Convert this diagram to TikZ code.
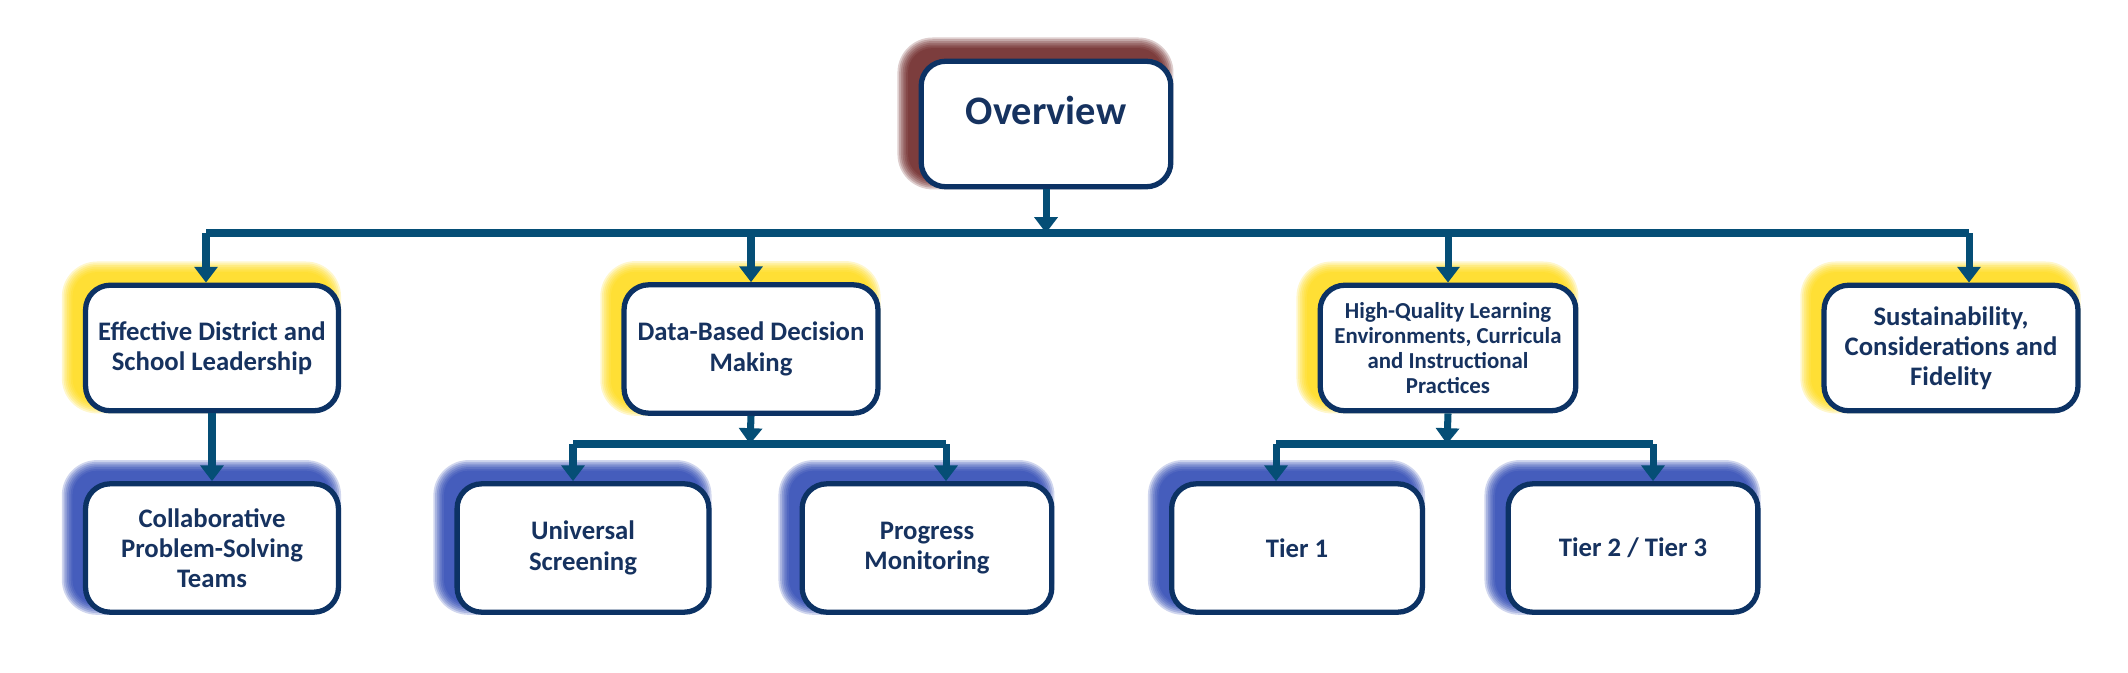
\documentclass[tikz,border=0pt]{standalone}
\usepackage{fontspec}
\setmainfont{Carlito}
\usetikzlibrary{arrows.meta,backgrounds}
\definecolor{linec}{RGB}{5,78,118}
\definecolor{boxc}{RGB}{12,50,100}
\definecolor{txtc}{RGB}{22,50,95}
\definecolor{gy}{RGB}{255,215,0}
\definecolor{gb}{RGB}{20,50,170}
\definecolor{gr}{RGB}{90,10,10}
\tikzset{
  box/.style={draw=boxc,line width=1.5pt,fill=white,rounded corners=7pt,align=center,text=txtc,font=\bfseries\fontsize{7.6}{8.6}\selectfont,inner sep=2pt},
  conn/.style={draw=linec,line width=2pt},
  arr/.style={conn,-{Triangle[width=6.5pt,length=4.5pt]}}
}
\newcommand\myglow[2]{%
  \begin{scope}[on background layer]
  \foreach \i in {0,...,6}{
    \fill[#2,opacity=0.2,rounded corners={7pt+\i*0.5pt}]
      ([xshift={-(3+\i*0.5)*1pt},yshift={(3+\i*0.5)*1pt}]#1.north west) rectangle
      ([xshift={(-3+\i*0.5)*1pt},yshift={(3-\i*0.5)*1pt}]#1.south east);
  }
  \end{scope}}
\begin{document}
\begin{tikzpicture}[x=0.01cm,y=-0.01cm]
\useasboundingbox (0,0) rectangle (2128,673);
\node[box,minimum width=71pt,minimum height=35.7pt,font=\bfseries\fontsize{11.5}{13}\selectfont] (ov) at (1046,124) {\raisebox{8pt}{Overview}};
\node[box,minimum width=71.9pt,minimum height=35.7pt] (ed) at (212,348) {Effective District and\\School Leadership};
\node[box,minimum width=72.2pt,minimum height=36.5pt] (db) at (751,349) {Data-Based Decision\\Making};
\node[box,minimum width=72.7pt,minimum height=35.7pt,font=\bfseries\fontsize{6.5}{7.1}\selectfont] (hq) at (1448,348) {High-Quality Learning\\Environments, Curricula\\and Instructional\\Practices};
\node[box,minimum width=72.2pt,minimum height=35.7pt] (su) at (1951,348) {Sustainability,\\Considerations and\\Fidelity};
\node[box,minimum width=71.9pt,minimum height=36.5pt] (co) at (212,548) {Collaborative\\Problem-Solving\\Teams};
\node[box,minimum width=71.6pt,minimum height=36.5pt] (us) at (583,548) {Universal\\Screening};
\node[box,minimum width=71.0pt,minimum height=36.5pt] (pm) at (927,548) {Progress\\Monitoring};
\node[box,minimum width=71.3pt,minimum height=36.5pt] (t1) at (1297,548) {Tier 1};
\node[box,minimum width=71.0pt,minimum height=36.5pt] (t2) at (1633,548) {Tier 2 / Tier 3};
\myglow{ov}{gr}
\myglow{ed}{gy}\myglow{db}{gy}\myglow{hq}{gy}\myglow{su}{gy}
\myglow{co}{gb}\myglow{us}{gb}\myglow{pm}{gb}\myglow{t1}{gb}\myglow{t2}{gb}
\coordinate (h) at (1046,233);
\coordinate (hd) at (750,444);
\coordinate (hh) at (1447,444);
\draw[arr] (ov.south) -- (h);
\draw[conn] (206,233) -- (1969,233);
\draw[arr] (206,233) -- (ed.north -| 206,0);
\draw[arr] (db.north |- h) -- (db.north);
\draw[arr] (hq.north |- h) -- (hq.north);
\draw[arr] (1969,233) -- (su.north -| 1969,0);
\draw[arr] (ed.south) -- (co.north);
\draw[arr] (db.south) -- (hd);
\draw[conn] (573,444) -- (946,444);
\draw[arr] (573,444) -- (us.north -| 573,0);
\draw[arr] (946,444) -- (pm.north -| 946,0);
\draw[arr] (hq.south) -- (hh);
\draw[conn] (1276,444) -- (1653,444);
\draw[arr] (1276,444) -- (t1.north -| 1276,0);
\draw[arr] (1653,444) -- (t2.north -| 1653,0);
\end{tikzpicture}
\end{document}
